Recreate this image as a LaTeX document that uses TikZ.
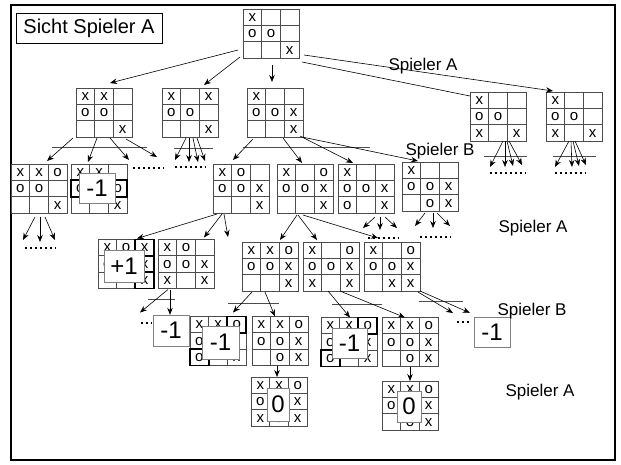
\documentclass[tikz,border=0pt]{standalone}
\usepackage{fontspec}
\setmainfont{Liberation Sans}
\usetikzlibrary{calc,arrows.meta}

% board: name, x, y, nine cells row by row (- = empty)
\newcommand\board[4]{%
  \node[brd] (#1) at (#2,#3) {};
  \draw[brdline] ($(#1.north west)+(18.67,0)$) -- ($(#1.south west)+(18.67,0)$)
    ($(#1.north west)+(37.33,0)$) -- ($(#1.south west)+(37.33,0)$)
    ($(#1.north west)+(0,16.33)$) -- ($(#1.north east)+(0,16.33)$)
    ($(#1.north west)+(0,32.67)$) -- ($(#1.north east)+(0,32.67)$);
  \foreach \m [count=\k from 0] in {#4} {
    \pgfmathtruncatemacro\bcol{mod(\k,3)}
    \pgfmathtruncatemacro\brow{div(\k,3)}
    \node[sym] at ($(#1.north west)+(\bcol*18.67+9.33,\brow*16.33+8.5)$) {\if\m-\else\m\fi};
  }}
% winning cell: board, column, row
\newcommand\win[3]{\draw[winbox] ($(#1.north west)+(#2*18.67,#3*16.33)$) rectangle ++(18.67,16.33);}

\begin{document}
\begin{tikzpicture}[x=1pt,y=-1pt,
  brd/.style={draw=black!70,line width=0.8pt,minimum width=56pt,minimum height=49pt,inner sep=0pt,outer sep=0pt},
  brdline/.style={draw=black!70,line width=0.8pt},
  sym/.style={inner sep=0pt,font=\fontsize{15}{15}\selectfont},
  winbox/.style={line width=1.8pt},
  ovl/.style={draw=black!50,fill=white,inner sep=0pt,font=\fontsize{24}{24}\selectfont},
  lbl/.style={font=\fontsize{17}{17}\selectfont,inner sep=0pt},
  arr/.style={-{Stealth[length=7pt,width=5.5pt]},line width=0.6pt},
  sep/.style={draw=black!70,line width=0.7pt},
  dotrow/.style={line width=1.5pt,dash pattern=on 1.5pt off 3.5pt}]
  \useasboundingbox (0,0) rectangle (621,464);
  \fill[white] (0,0) rectangle (621,464);
  \draw[line width=2.5pt] (11,5) rectangle (615,460);
  \node[draw,line width=0.8pt,minimum width=146pt,minimum height=30pt,
    font=\fontsize{20}{20}\selectfont] (title) at (89,28) {Sicht Spieler A};

  \board{root}{271}{33.5}{x,-,-,o,o,-,-,-,x}
  \board{b1}{104}{112.5}{x,x,-,o,o,-,-,-,x}
  \board{b2}{190}{112.5}{x,-,x,o,o,-,-,-,x}
  \board{b3}{275}{112.5}{x,-,-,o,o,x,-,-,x}
  \board{b4}{498}{116.5}{x,-,-,o,o,-,x,-,x}
  \board{b5}{574}{116.5}{x,-,-,o,o,-,x,-,x}
  \board{d1}{39}{188.5}{x,x,o,o,o,-,-,-,x}
  \board{d2}{99}{188.5}{x,x,-,o,o,o,-,-,x}
  \board{c1}{241}{188.5}{x,o,-,o,o,x,-,-,x}
  \board{c2}{305}{188.5}{x,-,o,o,o,x,-,-,x}
  \board{c3}{366}{188.5}{x,-,-,o,o,x,o,-,x}
  \board{c4}{430}{186.5}{x,-,-,o,o,x,-,o,x}
  \board{e1}{126}{264}{x,o,x,o,o,x,-,-,x}
  \board{e2}{186}{264}{x,o,-,o,o,x,x,-,x}
  \board{e3}{270}{266.5}{x,x,o,o,o,x,-,-,x}
  \board{e4}{331}{266.5}{x,-,o,o,o,x,x,-,x}
  \board{e5}{392}{266.5}{x,-,o,o,o,x,-,x,x}
  \board{g1}{218}{341}{x,x,o,o,o,x,o,-,x}
  \board{g2}{280}{341}{x,x,o,o,o,x,-,o,x}
  \board{g3}{349}{342}{x,x,o,o,o,x,o,-,x}
  \board{g4}{410}{342}{x,x,o,o,o,x,-,o,x}
  \board{h1}{279}{401.5}{x,x,o,o,o,x,x,o,x}
  \board{h2}{410}{405.5}{x,x,o,o,o,x,-,o,x}

  \win{d2}{0}{1} \win{d2}{1}{1} \win{d2}{2}{1}
  \win{e1}{2}{0} \win{e1}{2}{1} \win{e1}{2}{2}
  \win{g1}{2}{0} \win{g1}{1}{1} \win{g1}{0}{2}
  \win{g3}{2}{0} \win{g3}{1}{1} \win{g3}{0}{2}

  \node[ovl,minimum width=36pt,minimum height=30pt] (d2v) at (97,188) {-1};
  \node[ovl,minimum width=40pt,minimum height=32pt] (e1v) at (124,266) {+1};
  \node[ovl,minimum width=36pt,minimum height=31pt] (f1) at (171,330.5) {-1};
  \node[ovl,minimum width=37pt,minimum height=33pt] (g1v) at (220.5,342.5) {-1};
  \node[ovl,minimum width=35pt,minimum height=30pt] (g3v) at (349.5,343) {-1};
  \node[ovl,minimum width=36pt,minimum height=30pt] (f2) at (492,332) {-1};
  \node[ovl,minimum width=22pt,minimum height=33pt] (h1v) at (278,404.5) {0};
  \node[ovl,minimum width=24pt,minimum height=31pt] (h2v) at (409,406.5) {0};

  \node[lbl] (la1) at (423,66) {Spieler A};
  \node[lbl] (lb1) at (440,151) {Spieler B};
  \node[lbl] (la2) at (533,228) {Spieler A};
  \node[lbl] (lb2) at (532,311) {Spieler B};
  \node[lbl] (la3) at (540,392) {Spieler A};

  % root
  \draw[arr] ($(root.south west)+(-5,-8)$) -- ($(b1.north)+(6,-5)$);
  \draw[arr] ($(root.south west)+(-3,-1)$) -- ($(b2.north)+(14,-3)$);
  \draw[arr] ($(root.south)+(1,7)$) -- ($(b3.north)+(-3,-6)$);
  \draw[arr] ($(root.south east)+(5,-3)$) -- ($(b5.north)+(-21,-1)$);
  \draw[line width=0.6pt] ($(root.south east)+(3,4)$) -- ($(b4.north west)+(0,4)$);

  % Spieler B
  \draw[sep] ($(b1.south)+(-52,10)$) -- ++(95,0);
  \draw[arr] ($(b1.south)+(-31,1)$) -- ($(d1.north)+(8,-3)$);
  \draw[arr] ($(b1.south)+(-7,1)$) -- ($(d2.north)+(-11,-2)$);
  \draw[arr] ($(b1.south)+(6,1)$) -- ++(19,22);
  \draw[arr] ($(b1.south)+(22,2)$) -- ++(31,18);
  \draw[dotrow] (133,168) -- (164,168);

  \draw[sep] ($(b2.south)+(-16,11)$) -- ++(39,0);
  \draw[arr] ($(b2.south)+(-4,1)$) -- ++(-11,22);
  \draw[arr] ($(b2.south)+(-1,1)$) -- ++(0,24);
  \draw[arr] ($(b2.south)+(3,1)$) -- ++(5,24);
  \draw[arr] ($(b2.south)+(7,1)$) -- ++(8,23);
  \draw[dotrow] (175,167) -- (206,167);

  \draw[sep] ($(b3.south)+(-32,10)$) -- ++(127,0);
  \draw[arr] ($(b3.south)+(-22,2)$) -- ($(c1.north)+(-8,-4)$);
  \draw[arr] ($(b3.south)+(8,1)$) -- ($(c2.north)+(-3,-1)$);
  \draw[arr] ($(b3.south)+(25,-1)$) -- ($(c3.north)+(-13,-1)$);
  \draw[arr] ($(b3.south)+(27,0)$) -- ($(c4.north)+(-12,-1)$);

  \draw[sep] ($(b4.south)+(-14,15)$) -- ++(43,0);
  \draw[arr] ($(b4.south)+(5,0)$) -- ++(-13,26);
  \draw[arr] ($(b4.south)+(7,0)$) -- ++(0,26);
  \draw[arr] ($(b4.south)+(9,0)$) -- ++(6,25);
  \draw[arr] ($(b4.south)+(11,0)$) -- ++(13,24);
  \draw[dotrow] (490,173) -- (526,173);

  \draw[sep] ($(b5.south)+(-21,15)$) -- ++(43,0);
  \draw[arr] ($(b5.south)+(-5,0)$) -- ++(-14,26);
  \draw[arr] ($(b5.south)+(-3,0)$) -- ++(1,26);
  \draw[arr] ($(b5.south)+(-1,0)$) -- ++(6,25);
  \draw[arr] ($(b5.south)+(1,0)$) -- ++(11,24);
  \draw[dotrow] (555,173) -- (586,173);

  % Spieler A
  \draw[arr] ($(d1.south)+(-4,4)$) -- ++(-12,23);
  \draw[arr] ($(d1.south)+(1,4)$) -- ++(0,25);
  \draw[arr] ($(d1.south)+(6,4)$) -- ++(10,23);
  \draw[dotrow] (25,248) -- (56,248);

  \draw[arr] ($(c1.south)+(-24,1)$) -- ($(e1.north)+(11,-1)$);
  \draw[arr] ($(c1.south)+(-19,1)$) -- ($(e2.north)+(18,-2)$);
  \draw[arr] ($(c1.south)+(-17,1)$) -- ++(4,23);

  \draw[arr] ($(c2.south)+(-8,2)$) -- ($(e3.north)+(10,-2)$);
  \draw[arr] ($(c2.south)+(-7,2)$) -- ($(e4.north)+(-14,-2)$);
  \draw[arr] ($(c2.south)+(-2,2)$) -- ($(e5.north)+(-14,-4)$);

  \draw[arr] ($(c3.south)+(9,4)$) -- ++(-12,11);
  \draw[arr] ($(c3.south)+(14,4)$) -- ++(0,13);
  \draw[arr] ($(c3.south)+(19,4)$) -- ++(12,11);
  \draw[dotrow] (368,238) -- (399,238);

  \draw[arr] ($(c4.south)+(-5,2)$) -- ++(-10,13);
  \draw[arr] ($(c4.south)+(3,2)$) -- ++(0,15);
  \draw[arr] ($(c4.south)+(7,2)$) -- ++(13,13);
  \draw[dotrow] (420,237) -- (451,237);

  % Spieler B
  \draw[sep] ($(e2.south)+(-38,11)$) -- ++(27,0);
  \draw[arr] ($(e2.south)+(-18,1)$) -- ++(-28,23);
  \draw[arr] ($(e2.south)+(-16,1)$) -- ($(f1.north)+(-1,0)$);
  \draw[dotrow] (141,323) -- (152,323);

  \draw[sep] ($(e3.south)+(-42,12)$) -- ++(51,0);
  \draw[arr] ($(e3.south)+(-18,1)$) -- ($(g1.north)+(15,-4)$);
  \draw[arr] ($(e3.south)+(-5,1)$) -- ($(g2.north)+(-5,0)$);

  \draw[sep] ($(e4.south)+(1,13)$) -- ++(50,0);
  \draw[arr] ($(e4.south)+(-3,0)$) -- ($(g3.north)+(1,0)$);
  \draw[arr] ($(e4.south)+(9,0)$) -- ($(g4.north)+(-5,0)$);

  \draw[sep] ($(e5.south)+(27,10)$) -- ++(44,0);
  \draw[arr] ($(e5.south)+(28,0)$) -- ($(f2.north west)+(-4,-4)$);
  \draw[arr] ($(e5.south)+(26,1)$) -- ++(35,21);
  \draw[dotrow] (457,322) -- (471,322);

  % Spieler A
  \draw[arr] ($(g2.south)+(-3,0)$) -- ($(h1.north)+(-2,0)$);
  \draw[arr] (g4.south) -- (h2.north);
\end{tikzpicture}
\end{document}
